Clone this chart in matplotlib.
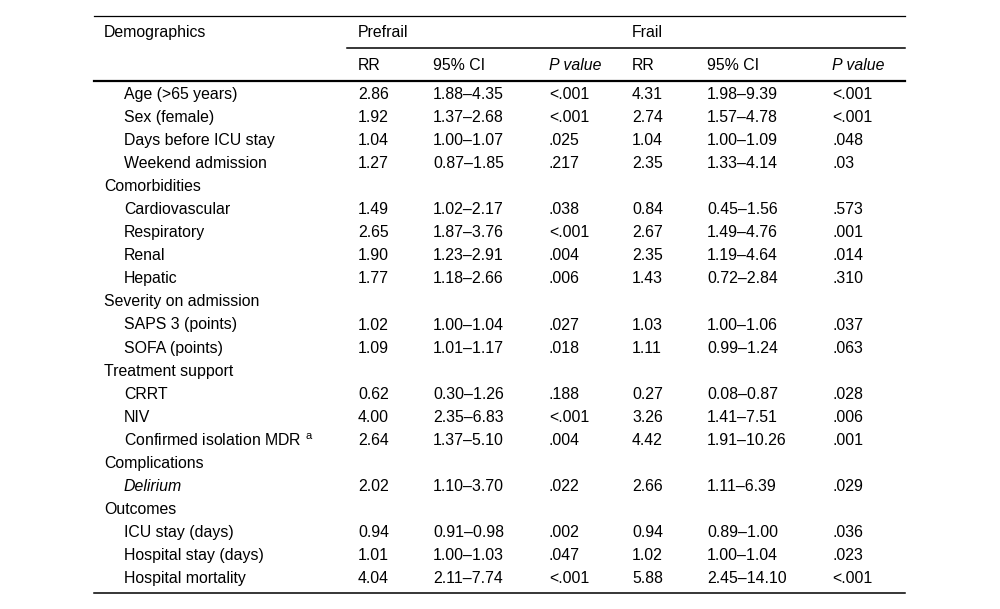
import matplotlib
matplotlib.use("Agg")
import matplotlib.pyplot as plt

plt.rcParams['font.family'] = ['Liberation Sans', 'DejaVu Sans']
plt.rcParams['mathtext.fontset'] = 'custom'
plt.rcParams['mathtext.rm'] = 'Liberation Sans'

# Table content
labels = ["Age (>65 years)", "Sex (female)", "Days before ICU stay", "Weekend admission",
          "Comorbidities", "Cardiovascular", "Respiratory", "Renal", "Hepatic",
          "Severity on admission", "SAPS 3 (points)", "SOFA (points)",
          "Treatment support", "CRRT", "NIV", "Confirmed isolation MDR $^{\\mathrm{a}}$",
          "Complications", "Delirium", "Outcomes", "ICU stay (days)",
          "Hospital stay (days)", "Hospital mortality"]
is_section = [False, False, False, False, True, False, False, False, False, True, False, False,
              True, False, False, False, True, False, True, False, False, False]
prefrail_rr = ["2.86", "1.92", "1.04", "1.27", "", "1.49", "2.65", "1.90", "1.77", "", "1.02", "1.09",
               "", "0.62", "4.00", "2.64", "", "2.02", "", "0.94", "1.01", "4.04"]
prefrail_ci = ["1.88–4.35", "1.37–2.68", "1.00–1.07", "0.87–1.85", "", "1.02–2.17", "1.87–3.76",
               "1.23–2.91", "1.18–2.66", "", "1.00–1.04", "1.01–1.17", "", "0.30–1.26", "2.35–6.83",
               "1.37–5.10", "", "1.10–3.70", "", "0.91–0.98", "1.00–1.03", "2.11–7.74"]
prefrail_p = ["<.001", "<.001", ".025", ".217", "", ".038", "<.001", ".004", ".006", "", ".027", ".018",
              "", ".188", "<.001", ".004", "", ".022", "", ".002", ".047", "<.001"]
frail_rr = ["4.31", "2.74", "1.04", "2.35", "", "0.84", "2.67", "2.35", "1.43", "", "1.03", "1.11",
            "", "0.27", "3.26", "4.42", "", "2.66", "", "0.94", "1.02", "5.88"]
frail_ci = ["1.98–9.39", "1.57–4.78", "1.00–1.09", "1.33–4.14", "", "0.45–1.56", "1.49–4.76",
            "1.19–4.64", "0.72–2.84", "", "1.00–1.06", "0.99–1.24", "", "0.08–0.87", "1.41–7.51",
            "1.91–10.26", "", "1.11–6.39", "", "0.89–1.00", "1.00–1.04", "2.45–14.10"]
frail_p = ["<.001", "<.001", ".048", ".03", "", ".573", ".001", ".014", ".310", "", ".037", ".063",
           "", ".028", ".006", ".001", "", ".029", "", ".036", ".023", "<.001"]
italic_rows = ["Delirium"]

fig = plt.figure(figsize=(10, 6.09), dpi=100)
ax = fig.add_axes([0, 0, 1, 1])
ax.set_xlim(0, 1000)
ax.set_ylim(609, 0)
ax.axis('off')

fs = 11.4
col_x = [358, 433, 549, 632, 707, 832]
row_y0 = 94.5
row_step = 23.05

# header
ax.text(104, 32.5, "Demographics", fontsize=fs, va='center')
ax.text(358, 32.5, "Prefrail", fontsize=fs, va='center')
ax.text(632, 32.5, "Frail", fontsize=fs, va='center')
sub = ["RR", "95% CI", "P value", "RR", "95% CI", "P value"]
for x, h in zip(col_x, sub):
    ax.text(x, 65.5, h, fontsize=fs, va='center', style='italic' if h == "P value" else 'normal')

# rules
ax.plot([94, 905], [16, 16], color='black', lw=0.9)
ax.plot([347, 905], [48, 48], color='black', lw=1.1)
ax.plot([94, 905], [81, 81], color='black', lw=1.6)
ax.plot([94, 905], [593, 593], color='black', lw=1.1)

# body
for i, lab in enumerate(labels):
    y = row_y0 + i * row_step
    x = 104 if is_section[i] else 124
    ax.text(x, y, lab, fontsize=fs, va='center',
            style='italic' if lab in italic_rows else 'normal')
    vals = [prefrail_rr[i], prefrail_ci[i], prefrail_p[i], frail_rr[i], frail_ci[i], frail_p[i]]
    for cx, v in zip(col_x, vals):
        ax.text(cx, y, v, fontsize=fs, va='center')

fig.savefig("out.png", dpi=100)
